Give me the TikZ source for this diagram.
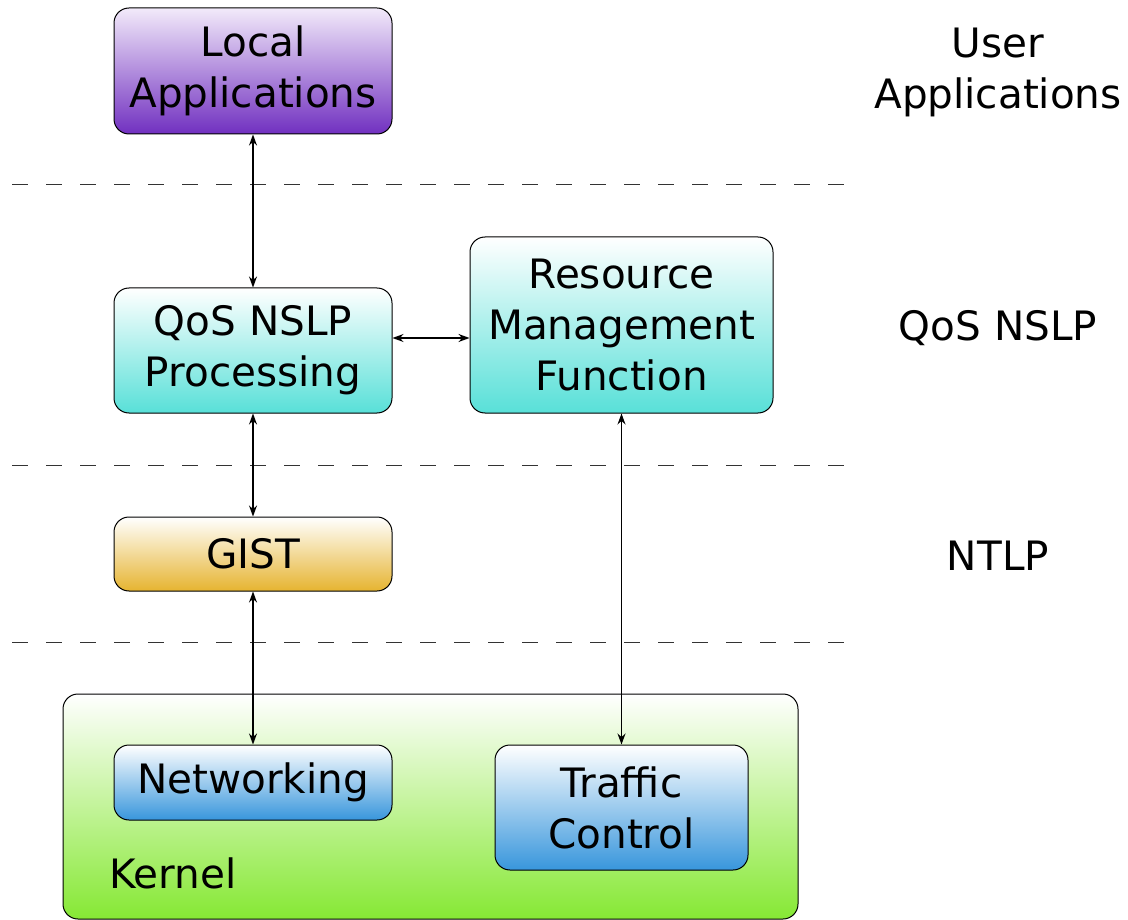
\documentclass[tikz,border=0pt]{standalone}
\usepackage{fontspec}
\setmainfont{DejaVu Sans}
\usetikzlibrary{arrows.meta}
\definecolor{cpurple}{HTML}{7130C0}
\definecolor{ccyan}{HTML}{58E0D8}
\definecolor{cgold}{HTML}{E6B430}
\definecolor{cblue}{HTML}{3896DC}
\definecolor{cgreen}{HTML}{86E834}
\definecolor{cpurpletop}{HTML}{F2EAFA}
\tikzset{
  box/.style={draw=black, line width=1pt, rounded corners=15pt, inner sep=0pt,
    align=center, font=\fontsize{40.5}{51}\selectfont, top color=white},
  lbl/.style={align=center, font=\fontsize{40.5}{51}\selectfont, inner sep=0pt},
  conn/.style={line width=1.2pt, {Stealth[length=11pt,width=8pt]}-{Stealth[length=11pt,width=8pt]}},
  sep/.style={line width=1pt, dash pattern=on 16pt off 18pt, draw=black!80}
}
\begin{document}
\begin{tikzpicture}[x=1pt,y=-1pt]
\useasboundingbox (0,0) rectangle (1128,920);
% separators
\draw[sep] (12,185) -- (851,185);
\draw[sep] (12,465) -- (851,465);
\draw[sep] (12,642) -- (851,642);
% kernel
\node[box, bottom color=cgreen, minimum width=735pt, minimum height=225pt] (kernel) at (430.5,806.5) {};
\node[lbl, anchor=west] (kernellbl) at (109,873) {Kernel};
% boxes
\node[box, top color=cpurpletop, bottom color=cpurple, minimum width=278pt, minimum height=126pt] (local) at (253,71) {Local\\Applications};
\node[box, bottom color=ccyan, minimum width=278pt, minimum height=125pt] (qos) at (253,350.5) {QoS NSLP\\Processing};
\node[box, bottom color=ccyan, minimum width=303pt, minimum height=176pt] (rmf) at (621.5,325) {Resource\\Management\\Function};
\node[box, bottom color=cgold, minimum width=278pt, minimum height=74pt] (gist) at (253,554) {GIST};
\node[box, bottom color=cblue, minimum width=278pt, minimum height=75pt] (net) at (253,782.5) {Networking};
\node[box, bottom color=cblue, minimum width=253pt, minimum height=125pt] (tc) at (621.5,807.5) {Traffic\\Control};
% right labels
\node[lbl] (ua) at (998,72) {User\\Applications};
\node[lbl] (ql) at (998,328) {QoS NSLP};
\node[lbl] (nl) at (998,556) {NTLP};
% connectors
\draw[conn] (local.south) -- (qos.north);
\draw[conn] (qos.east |- 0,338) -- (rmf.west |- 0,338);
\draw[conn] (qos.south) -- (gist.north);
\draw[conn] (gist.south) -- (net.north);
\draw[conn] (rmf.south) -- (tc.north);
\end{tikzpicture}
\end{document}
